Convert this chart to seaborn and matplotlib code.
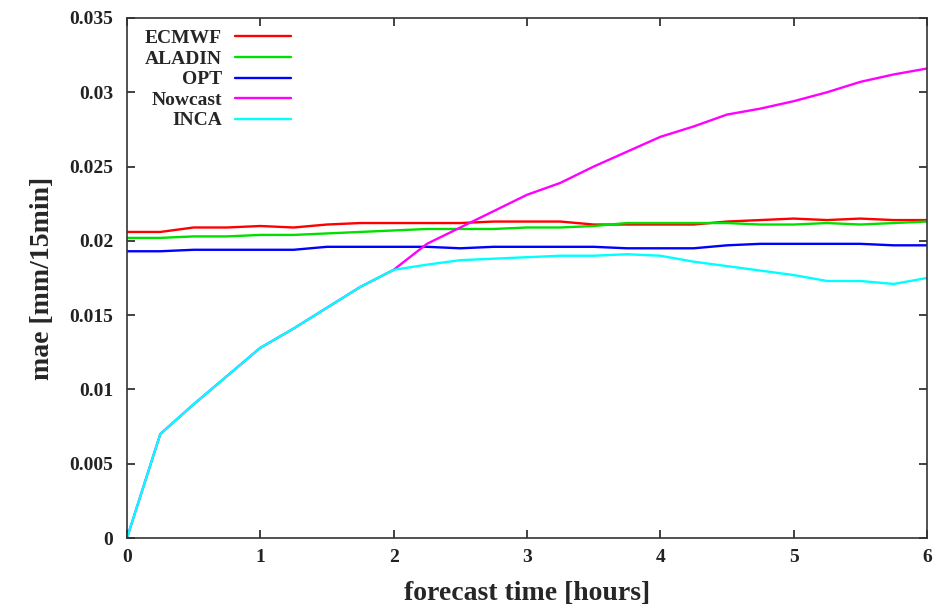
import matplotlib
matplotlib.use('Agg')

import pandas as pd
import numpy as np
import matplotlib.pyplot as plt
from matplotlib.ticker import FuncFormatter
import seaborn as sns

# data, 15-minute steps
hours = [0, 0.25, 0.5, 0.75, 1.0, 1.25, 1.5, 1.75, 2.0, 2.25, 2.5, 2.75, 3.0,
         3.25, 3.5, 3.75, 4.0, 4.25, 4.5, 4.75, 5.0, 5.25, 5.5, 5.75, 6.0]

ecmwf = [0.0206, 0.0206, 0.0209, 0.0209, 0.0210, 0.0209, 0.0211, 0.0212, 0.0212,
         0.0212, 0.0212, 0.0213, 0.0213, 0.0213, 0.0211, 0.0211, 0.0211, 0.0211,
         0.0213, 0.0214, 0.0215, 0.0214, 0.0215, 0.0214, 0.0214]
aladin = [0.0202, 0.0202, 0.0203, 0.0203, 0.0204, 0.0204, 0.0205, 0.0206, 0.0207,
          0.0208, 0.0208, 0.0208, 0.0209, 0.0209, 0.0210, 0.0212, 0.0212, 0.0212,
          0.0212, 0.0211, 0.0211, 0.0212, 0.0211, 0.0212, 0.0213]
opt = [0.0193, 0.0193, 0.0194, 0.0194, 0.0194, 0.0194, 0.0196, 0.0196, 0.0196,
       0.0196, 0.0195, 0.0196, 0.0196, 0.0196, 0.0196, 0.0195, 0.0195, 0.0195,
       0.0197, 0.0198, 0.0198, 0.0198, 0.0198, 0.0197, 0.0197]
nowcast = [0.0, 0.0070, 0.0090, 0.0109, 0.0128, 0.0141, 0.0155, 0.0169, 0.01805,
           0.0198, 0.0209, 0.0220, 0.0231, 0.0239, 0.0250, 0.0260, 0.0270, 0.0277,
           0.0285, 0.0289, 0.0294, 0.0300, 0.0307, 0.0312, 0.0316]
inca = [0.0, 0.0070, 0.0090, 0.0109, 0.0128, 0.0141, 0.0155, 0.0169, 0.01805,
        0.0184, 0.0187, 0.0188, 0.0189, 0.0190, 0.0190, 0.0191, 0.0190, 0.0186,
        0.0183, 0.0180, 0.0177, 0.0173, 0.0173, 0.0171, 0.0175]

models = ["ECMWF", "ALADIN", "OPT", "Nowcast", "INCA"]
colors = ["#ff0000", "#00e000", "#0000ff", "#ff00ff", "#00ffff"]

df = pd.DataFrame({
    "hours": hours * 5,
    "mae": ecmwf + aladin + opt + nowcast + inca,
    "model": sum([[m] * len(hours) for m in models], []),
})

sns.set_style("ticks")
plt.rcParams['font.family'] = ['Liberation Serif', 'DejaVu Serif']
plt.rcParams['font.weight'] = 'bold'

fig = plt.figure(figsize=(9.35, 6.08), dpi=100)
ax = fig.add_axes([0.1358, 0.1151, 0.8556, 0.8553])

sns.lineplot(data=df, x="hours", y="mae", hue="model", hue_order=models,
             palette=colors, linewidth=1.7, ax=ax)

ax.set_xlim(0, 6)
ax.set_ylim(0, 0.035)
ax.set_xticks(range(7))
ax.set_yticks(np.arange(0, 0.0351, 0.005))
ax.yaxis.set_major_formatter(FuncFormatter(lambda v, p: f"{v:g}"))

for s in ax.spines.values():
    s.set_visible(True)
    s.set_linewidth(1.2)
    s.set_color("#333333")
ax.tick_params(direction="in", length=6, width=1.2, top=True, right=True,
               labelsize=14, colors="#222222")
ax.tick_params(axis="y", pad=10)
ax.tick_params(axis="x", pad=8)

ax.set_xlabel("forecast time [hours]", fontsize=20, fontweight="bold", labelpad=11)
ax.set_ylabel("mae [mm/15min]", fontsize=20, fontweight="bold", labelpad=10)

leg = ax.legend(loc="upper left", frameon=False, markerfirst=False,
                fontsize=14, handlelength=2.9, handletextpad=0.65,
                labelspacing=0.15, borderaxespad=0.2, bbox_to_anchor=(0.008, 1.0))
for col in leg._legend_handle_box.get_children():
    col.align = "right"

plt.savefig("out.png", dpi=100)
